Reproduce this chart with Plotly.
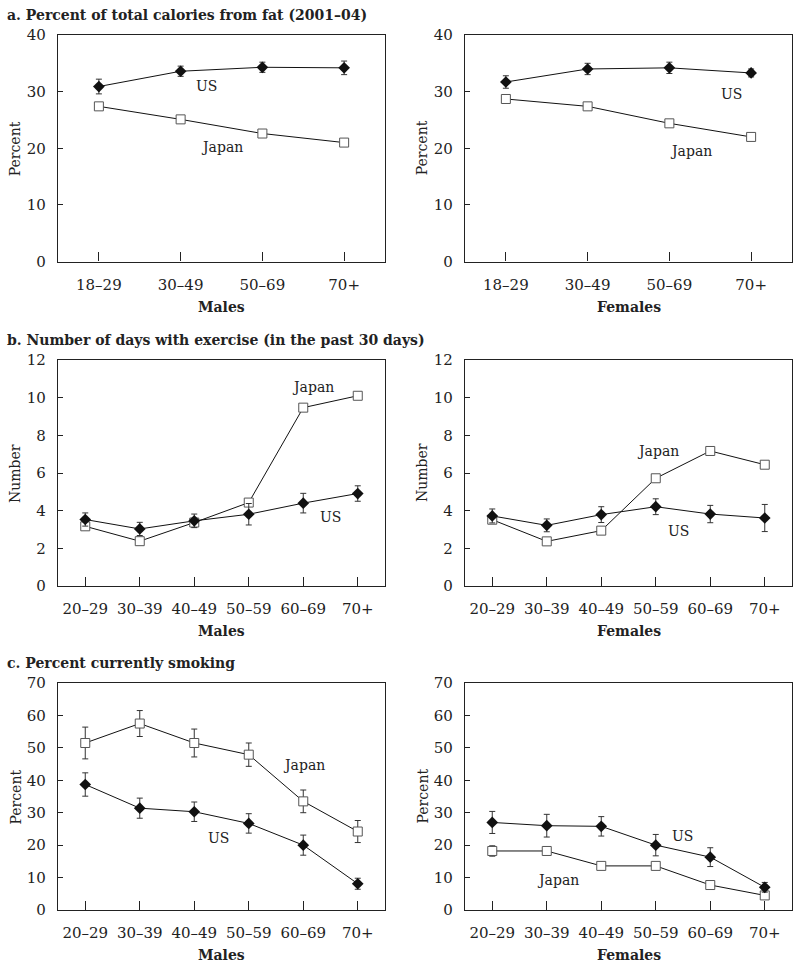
import plotly.graph_objects as go

# ---------------- data ----------------
age_fat = ["18–29", "30–49", "50–69", "70+"]
age_ex = ["20–29", "30–39", "40–49", "50–59", "60–69", "70+"]

fat_us_m = [30.9, 33.6, 34.3, 34.2]
fat_us_m_err = [1.3, 0.9, 0.9, 1.2]
fat_jp_m = [27.4, 25.1, 22.6, 21.0]
fat_us_f = [31.7, 34.0, 34.2, 33.3]
fat_us_f_err = [1.1, 1.0, 1.0, 0.7]
fat_jp_f = [28.7, 27.4, 24.4, 22.0]

ex_us_m = [3.53, 3.03, 3.46, 3.81, 4.40, 4.91]
ex_us_m_err = [0.35, 0.35, 0.36, 0.57, 0.52, 0.41]
ex_jp_m = [3.17, 2.38, 3.37, 4.43, 9.47, 10.1]
ex_us_f = [3.72, 3.22, 3.79, 4.21, 3.82, 3.61]
ex_us_f_err = [0.37, 0.34, 0.42, 0.42, 0.46, 0.72]
ex_jp_f = [3.52, 2.37, 2.94, 5.72, 7.17, 6.44]

sm_us_m = [38.7, 31.4, 30.3, 26.7, 20.0, 8.1]
sm_us_m_err = [3.6, 3.1, 3.0, 3.0, 3.1, 1.7]
sm_jp_m = [51.5, 57.5, 51.5, 47.9, 33.5, 24.2]
sm_jp_m_err = [4.9, 4.0, 4.3, 3.6, 3.5, 3.4]
sm_us_f = [27.0, 26.0, 25.8, 20.0, 16.3, 7.0]
sm_us_f_err = [3.4, 3.5, 3.0, 3.3, 2.9, 1.5]
sm_jp_f = [18.2, 18.2, 13.6, 13.6, 7.7, 4.5]
sm_jp_f_err = [1.6, 1.0, 1.0, 1.0, 1.0, 1.0]

titles = ["a. Percent of total calories from fat (2001–04)",
          "b. Number of days with exercise (in the past 30 days)",
          "c. Percent currently smoking"]
sex_labels = ["Males", "Females"]
y_titles = ["Percent", "Number", "Percent"]

# ---------------- styling ----------------
W, H = 800, 972
FONT = "DejaVu Serif"
TXT = "#222"

def px_x(p):
    return p / W

def px_y(p):
    return 1 - p / H

x_dom = [(px_x(58), px_x(385)), (px_x(465), px_x(792))]
y_box = [(35, 261.5), (360, 586), (683, 910)]

fig = go.Figure()

panels = [
    (0, 0, age_fat, fat_us_m, fat_us_m_err, fat_jp_m, None, 40, 10,
     [("US", 1.32, 31.0), ("Japan", 1.51, 20.2)]),
    (0, 1, age_fat, fat_us_f, fat_us_f_err, fat_jp_f, None, 40, 10,
     [("US", 2.76, 29.6), ("Japan", 2.26, 19.5)]),
    (1, 0, age_ex, ex_us_m, ex_us_m_err, ex_jp_m, None, 12, 2,
     [("Japan", 4.18, 10.57), ("US", 4.5, 3.66)]),
    (1, 1, age_ex, ex_us_f, ex_us_f_err, ex_jp_f, None, 12, 2,
     [("Japan", 3.05, 7.17), ("US", 3.41, 2.92)]),
    (2, 0, age_ex, sm_us_m, sm_us_m_err, sm_jp_m, sm_jp_m_err, 70, 10,
     [("Japan", 4.01, 44.7), ("US", 2.45, 22.2)]),
    (2, 1, age_ex, sm_us_f, sm_us_f_err, sm_jp_f, sm_jp_f_err, 70, 10,
     [("US", 3.49, 22.8), ("Japan", 1.2, 9.3)]),
]

annotations = []
for i, (r, c, cats, us, us_err, jp, jp_err, ymax, dt, labels) in enumerate(panels):
    n = i + 1
    xa = "x" if n == 1 else f"x{n}"
    ya = "y" if n == 1 else f"y{n}"
    err_style = dict(type="data", thickness=1, width=3, color="#333")
    jp_kw = {}
    if jp_err is not None:
        jp_kw["error_y"] = dict(array=jp_err, **err_style)
    fig.add_trace(go.Scatter(
        x=cats, y=jp, mode="lines+markers", xaxis=xa, yaxis=ya,
        line=dict(color="#111", width=1),
        marker=dict(symbol="square", size=9, color="white",
                    line=dict(color="#555", width=1)),
        showlegend=False, **jp_kw))
    fig.add_trace(go.Scatter(
        x=cats, y=us, mode="lines+markers", xaxis=xa, yaxis=ya,
        line=dict(color="#111", width=1),
        marker=dict(symbol="diamond", size=9, color="#111"),
        error_y=dict(array=us_err, **err_style),
        showlegend=False))

    top, bot = y_box[r]
    ax_common = dict(showline=True, linecolor="#222", linewidth=1.2, mirror=True,
                     showgrid=False, zeroline=False, ticks="inside",
                     automargin=False,
                     tickcolor="#222", tickfont=dict(family=FONT, size=15, color=TXT))
    xkey = "xaxis" if n == 1 else f"xaxis{n}"
    ykey = "yaxis" if n == 1 else f"yaxis{n}"
    fig.update_layout(**{
        xkey: dict(domain=list(x_dom[c]), anchor=ya, type="category",
                   categoryorder="array", categoryarray=cats,
                   range=[-0.5, len(cats) - 0.5], ticklen=9,
                   ticklabelstandoff=9, **ax_common),
        ykey: dict(domain=[px_y(bot), px_y(top)], anchor=xa,
                   range=[0, ymax], dtick=dt, ticklen=5,
                   ticklabelstandoff=8, **ax_common),
    })

    for txt, lx, ly in labels:
        annotations.append(dict(text=txt, x=lx, y=ly, xref=xa, yref=ya,
                                showarrow=False,
                                font=dict(family=FONT, size=14, color=TXT)))
    annotations.append(dict(text=f"<b>{sex_labels[c]}</b>", xref="paper", yref="paper",
                            x=sum(x_dom[c]) / 2, y=px_y(bot + 45), showarrow=False,
                            xanchor="center", yanchor="middle",
                            font=dict(family=FONT, size=14, color=TXT)))
    annotations.append(dict(text=y_titles[r], xref="paper", yref="paper",
                            x=px_x(x_dom[c][0] * W - 43), y=px_y((top + bot) / 2),
                            showarrow=False, textangle=-90,
                            xanchor="center", yanchor="middle",
                            font=dict(family=FONT, size=14, color=TXT)))

for r, t in enumerate(titles):
    annotations.append(dict(text=f"<b>{t}</b>", xref="paper", yref="paper",
                            x=px_x(5), y=px_y(y_box[r][0] - 20), showarrow=False,
                            xanchor="left", yanchor="middle",
                            font=dict(family=FONT, size=14, color=TXT)))

fig.update_layout(width=W, height=H,
                  margin=dict(l=0, r=0, t=0, b=0, pad=0, autoexpand=False),
                  paper_bgcolor="white", plot_bgcolor="white",
                  annotations=annotations)

fig.write_html("out.html", config={"displayModeBar": False},
               post_script="document.body.style.margin='0';document.body.style.padding='0';")
